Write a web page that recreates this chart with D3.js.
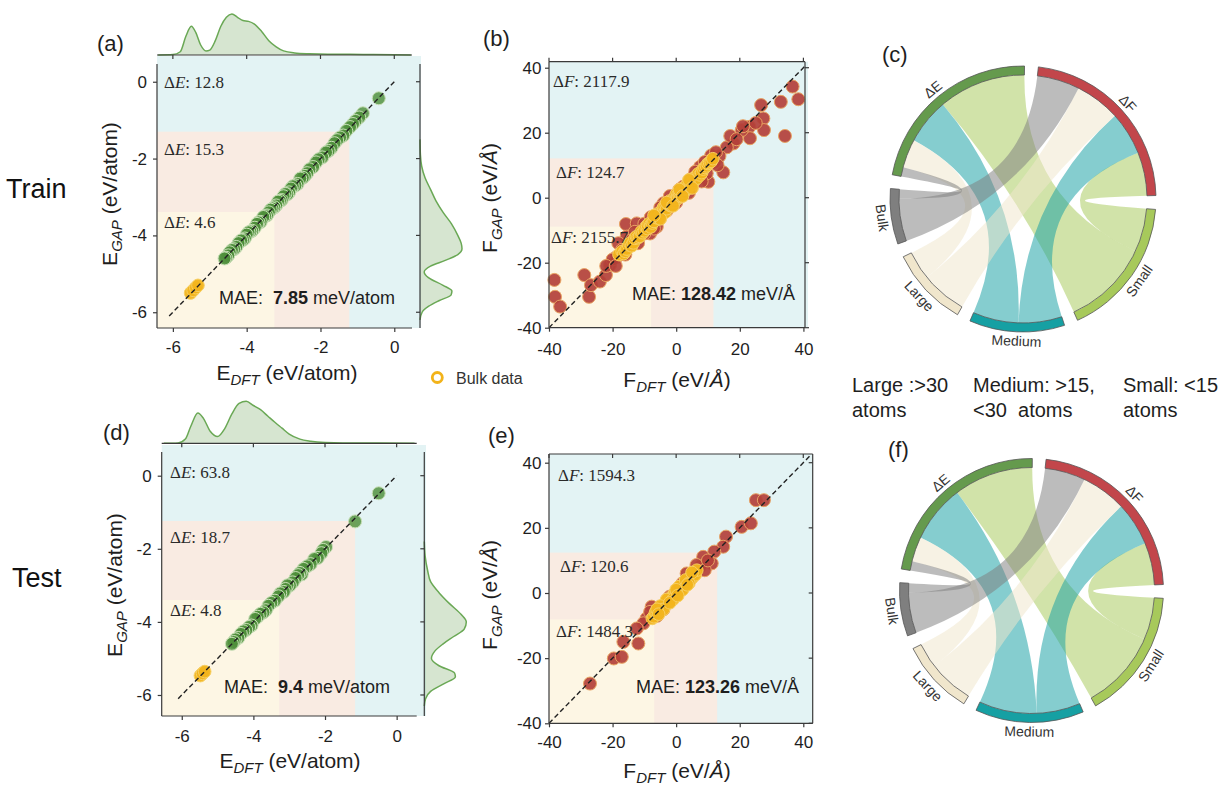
<!DOCTYPE html>
<html><head><meta charset="utf-8">
<script src="https://cdn.jsdelivr.net/npm/d3@7/dist/d3.min.js"></script>
<style>
body{margin:0;background:#fff;}
svg text{font-family:"Liberation Sans",Arial,Helvetica,sans-serif;}
svg text.serif{font-family:"Liberation Serif","Times New Roman",serif;}
</style></head>
<body>
<svg id="fig" width="1226" height="786" xmlns="http://www.w3.org/2000/svg"></svg>
<script>
// ---------------- DATA ----------------
const eTicks = [-6, -4, -2, 0];
const fTicks = [-40, -20, 0, 20, 40];

// (a) train energies [E_DFT, E_GAP]
const trainEPoints = [[-0.42,-0.43],[-0.85,-0.82],[-0.95,-0.93],[-1.05,-1.02],[-1.12,-1.1],[-1.2,-1.18],[-1.3,-1.28],[-1.38,-1.4],[-1.47,-1.45],[-1.55,-1.52],[-1.62,-1.6],[-1.7,-1.72],[-1.78,-1.8],[-1.85,-1.84],[-1.95,-1.97],[-2.05,-2.02],[-2.12,-2.1],[-2.2,-2.22],[-2.3,-2.28],[-2.36,-2.38],[-2.42,-2.45],[-2.48,-2.5],[-2.55,-2.52],[-2.62,-2.66],[-2.68,-2.7],[-2.75,-2.72],[-2.8,-2.78],[-2.85,-2.88],[-2.9,-2.93],[-2.95,-2.92],[-3.0,-2.98],[-3.05,-3.08],[-3.1,-3.1],[-3.15,-3.12],[-3.2,-3.22],[-3.25,-3.27],[-3.3,-3.3],[-3.35,-3.33],[-3.4,-3.4],[-3.45,-3.48],[-3.5,-3.5],[-3.55,-3.52],[-3.62,-3.65],[-3.68,-3.66],[-3.72,-3.7],[-3.78,-3.8],[-3.85,-3.88],[-3.9,-3.9],[-3.95,-3.92],[-4.0,-3.98],[-4.05,-4.08],[-4.1,-4.12],[-4.15,-4.13],[-4.22,-4.2],[-4.28,-4.3],[-4.34,-4.36],[-4.4,-4.38],[-4.46,-4.44],[-4.5,-4.52],[-4.56,-4.58],[-4.6,-4.6]];
const trainEBulk = [[-5.52,-5.5],[-5.45,-5.43],[-5.38,-5.36],[-5.32,-5.3]];
// (d) test energies
const testEPoints = [[-0.5,-0.48],[-1.16,-1.25],[-1.97,-1.95],[-2.05,-2.03],[-2.1,-2.12],[-2.2,-2.25],[-2.3,-2.28],[-2.4,-2.42],[-2.5,-2.48],[-2.6,-2.55],[-2.65,-2.7],[-2.7,-2.66],[-2.75,-2.72],[-2.82,-2.8],[-2.9,-2.92],[-2.98,-3.0],[-3.05,-3.0],[-3.1,-3.1],[-3.15,-3.18],[-3.25,-3.22],[-3.3,-3.3],[-3.4,-3.42],[-3.5,-3.48],[-3.58,-3.56],[-3.65,-3.68],[-3.72,-3.74],[-3.8,-3.78],[-3.88,-3.86],[-3.95,-3.92],[-4.05,-4.1],[-4.12,-4.14],[-4.2,-4.22],[-4.28,-4.26],[-4.35,-4.33],[-4.42,-4.44],[-4.5,-4.48],[-4.55,-4.55],[-4.6,-4.6]];
const testEBulk = [[-5.48,-5.47],[-5.42,-5.41],[-5.36,-5.36]];
// (b) train forces [F_DFT, F_GAP]
const trainFPoints = [[36.6,34.2],[32.9,29.5],[38.4,30.3],[26.7,28.5],[27.4,24.4],[27.6,20.8],[34.2,19.0],[23.0,21.8],[23.2,18.3],[20.6,20.8],[18.0,16.7],[15.9,15.5],[14.8,7.8],[13.6,12.8],[10.1,4.9],[9.6,7.5],[7.5,9.5],[12,11],[11,13],[17,19],[19,18],[21,22],[25,23],[5,6],[3,3.5],[8,5],[-38.3,-25.3],[-38.1,-30.5],[-36.5,-33.5],[-28.9,-23.8],[-27.4,-30.5],[-26.8,-26.9],[-24,-25.8],[-22.1,-23.8],[-20.8,-20.7],[-18.7,-18.2],[-15.8,-8.1],[-12.4,-7.9],[-15.6,-12],[-18.2,-14.0],[-8.2,-11],[-6.1,-8.9],[-4.0,-1.7],[2.2,3.4],[4.3,4.4],[-17,-16],[-16,-17.5],[-14,-13],[-12,-14],[-10,-8],[-10,-11],[-8,-6],[-6,-6.5],[-5,-3],[-3,-4],[-2,0.5],[0,-1.5],[1,2.5],[-20,-19],[-22,-21],[-19,-21],[-13,-10.5],[6,8],[9,11],[12.5,14],[13,10],[-7,-9.5],[4,1.5]];
const trainFBulk = [[-18,-17.5],[-17,-16.5],[-16.5,-17.2],[-16,-16.5],[-15.5,-15.8],[-15,-14.5],[-14.5,-14],[-14,-14.8],[-13.5,-13.9],[-13,-12.5],[-12.5,-12],[-12,-12.3],[-11.5,-11.9],[-11,-10.5],[-10.5,-10.8],[-10,-10.2],[-9.5,-9],[-9,-9.5],[-9,-8.5],[-8.5,-8],[-8,-8.4],[-8,-9],[-7.5,-7.8],[-7,-7.3],[-6.5,-6],[-6,-6.2],[-6,-5],[-5.5,-6],[-5,-5.3],[-4.5,-4],[-4,-4.2],[-4,-3],[-3.5,-3],[-3.5,-4.5],[-3,-3.4],[-2.5,-2],[-2,-2.3],[-2,-1],[-1.5,-1.2],[-1.5,-2.5],[-1,-1.3],[-0.5,0],[-0.5,-1.2],[0,-0.3],[0,1],[0.5,0.8],[0.5,-0.2],[1,0.6],[1,1.5],[1.5,1.9],[1.5,0.5],[2,1.7],[2,2.8],[2.5,2.9],[2.5,1.8],[3,2.6],[3,3.5],[3.5,4],[3.5,2.8],[4,3.7],[4.5,5],[4.5,4],[5,4.6],[5.5,6],[5.5,5],[6,5.7],[6.5,6.8],[6.5,6],[7,7.4],[7.5,7],[8,7.7],[8.5,8.8],[9,9.3],[9.5,9.8],[10,10.5],[10.5,10.8],[11,11.2],[11.5,12],[-3,-1.5],[-1,-2.5],[1,2.5],[2,0.5],[-5,-6.5],[-7,-5.5],[4,5.5],[5,3]];
// (e) test forces
const testFPoints = [[25.1,28.5],[27.6,28.5],[20.6,20.3],[23.5,21.4],[15.7,17.3],[14.8,14.2],[12.0,12.7],[11.2,9.1],[8.5,11.1],[7.5,8.1],[6.4,8.6],[3.3,6.0],[-7.7,-4.2],[-9.3,-7.8],[-10.3,-9.3],[-12.4,-10.9],[-11.9,-15.5],[-16.6,-15],[-19.6,-20.1],[-17.1,-19.6],[-27.1,-27.8],[-8.2,-5.8],[-2,-1.1],[9,7],[5,5.5],[-6,-7],[-4,-5],[2,3],[10,10]];
const testFBulk = [[-7.5,-7.8],[-7,-7.3],[-6.5,-6],[-6,-6.3],[-5.5,-5],[-5,-5.3],[-4.5,-4.2],[-4,-4.4],[-3.5,-3.2],[-3,-3.3],[-2.5,-2.2],[-2,-2.4],[-1.5,-1.2],[-1,-1.3],[-0.5,-0.2],[0,-0.4],[0.5,0.8],[1,0.6],[1.5,1.8],[2,1.6],[2.5,2.8],[3,2.7],[3.5,3.9],[4,3.6],[4.5,4.8],[5,4.6],[5.5,5.9],[6,5.6],[-3,-2],[-1,-2],[1,2],[2,1],[3,4],[4,3],[-5,-4],[-4,-5],[6.5,7],[-6,-5],[-2,-3],[0,1],[5,6.3],[-5.5,-6.5],[0.5,-0.8],[3.5,2.5]];

// region thresholds [large|medium boundary, medium|small boundary]
const trainERegionX = [-3.25, -1.22], trainERegionY = [-3.39, -1.30];
const testERegionX = [-3.28, -1.16], testERegionY = [-3.40, -1.24];
const trainFRegionX = [-7.9, 11.7], trainFRegionY = [-8.9, 12.1];
const testFRegionX = [-6.9, 12.9], testFRegionY = [-8.1, 12.4];

// errors per region: [small (top), medium, large (bottom)]
const trainEDelta = ["12.8", "15.3", "4.6"];
const testEDelta = ["63.8", "18.7", "4.8"];
const trainFDelta = ["2117.9", "124.7", "2155.7"];
const testFDelta = ["1594.3", "120.6", "1484.3"];
const maeTrainE = "7.85", maeTestE = "9.4", maeTrainF = "128.42", maeTestF = "123.26";

// marginal densities [value, relative density]
const topKdeTrain = [[-6.4,0],[-6.0,0.01],[-5.8,0.08],[-5.65,0.45],[-5.5,0.70],[-5.38,0.55],[-5.25,0.25],[-5.1,0.1],[-5.0,0.12],[-4.85,0.35],[-4.7,0.7],[-4.55,0.92],[-4.4,1.0],[-4.25,0.92],[-4.1,0.84],[-3.95,0.82],[-3.8,0.76],[-3.6,0.58],[-3.4,0.35],[-3.2,0.2],[-3.0,0.1],[-2.7,0.05],[-2.3,0.03],[-1.8,0.02],[-1.2,0.02],[-0.6,0.01],[0,0.005],[0.45,0]];
const rightKdeTrain = [[-1.5,0],[-1.9,0.01],[-2.2,0.04],[-2.5,0.12],[-2.8,0.25],[-3.1,0.38],[-3.4,0.55],[-3.7,0.75],[-4.0,0.9],[-4.2,0.98],[-4.35,1.0],[-4.5,0.9],[-4.65,0.6],[-4.8,0.25],[-4.95,0.1],[-5.1,0.2],[-5.3,0.55],[-5.45,0.76],[-5.55,0.74],[-5.7,0.45],[-5.85,0.2],[-6.0,0.05],[-6.2,0]];
const topKdeTest = [[-6.5,0],[-6.1,0.01],[-5.9,0.1],[-5.75,0.4],[-5.55,0.72],[-5.4,0.6],[-5.2,0.28],[-5.0,0.16],[-4.8,0.35],[-4.6,0.7],[-4.4,0.95],[-4.2,1.0],[-4.0,0.9],[-3.8,0.8],[-3.6,0.65],[-3.4,0.5],[-3.2,0.36],[-3.0,0.22],[-2.7,0.1],[-2.4,0.05],[-2.0,0.02],[-1.5,0.01],[-1,0.01],[-0.5,0.005],[0.5,0]];
const rightKdeTest = [[-1.8,0],[-2.2,0.02],[-2.6,0.08],[-2.9,0.15],[-3.2,0.35],[-3.5,0.6],[-3.8,0.88],[-4.0,1.0],[-4.2,0.95],[-4.4,0.7],[-4.6,0.45],[-4.8,0.25],[-5.0,0.17],[-5.2,0.35],[-5.4,0.72],[-5.5,0.74],[-5.7,0.45],[-5.9,0.15],[-6.1,0.03],[-6.3,0]];

// chord diagrams: targets order Small, Medium, Large, Bulk
const chordSources = ["ΔE", "ΔF"];
const chordTargets = ["Small", "Medium", "Large", "Bulk"];
const trainChordE = [41, 21.5, 13.5, 4.3];
const trainChordF = [20.4, 20.3, 21.3, 20.0];
const testChordE = [38.1, 27.6, 11.9, 4.4];
const testChordF = [20.2, 20.9, 21.6, 19.4];

const sizeClasses = [["Large :>30", "atoms"], ["Medium: >15,", "<30  atoms"], ["Small: <15", "atoms"]];

// ---------------- STYLE ----------------
const COL = {blue:"#e3f3f4", peach:"#f9ebe2", yellow:"#fdf6e4", spine:"#3a3a3a", text:"#1e1e1e"};
const chordColor = {"ΔE":"#659a4d","ΔF":"#c2464b","Small":"#a7c95b","Medium":"#16a0a3","Large":"#f0e6cc","Bulk":"#7f7f7f"};
const svg = d3.select("#fig");

function seg(g, x1, y1, x2, y2, w) {
  g.append("line").attr("x1",x1).attr("y1",y1).attr("x2",x2).attr("y2",y2)
   .attr("stroke",COL.spine).attr("stroke-width",w||1.2);
}
function styleAxis(ax) {
  ax.attr("font-size",17);
  ax.selectAll(".tick line").attr("stroke",COL.spine).attr("stroke-width",1.2);
  ax.selectAll(".tick text").attr("fill",COL.text);
  ax.select(".domain").remove();
}
function axisLabel(x, y, rot, main, sub, unit, unitItalic) {
  const t = svg.append("text").attr("transform",`translate(${x},${y}) rotate(${rot})`)
    .attr("text-anchor","middle").attr("font-size",21).attr("fill",COL.text);
  t.append("tspan").text(main);
  t.append("tspan").attr("font-size",15).attr("font-style","italic").attr("dy",5).text(sub);
  t.append("tspan").attr("dy",-5).text(" (eV/");
  t.append("tspan").attr("font-style",unitItalic?"italic":"normal").text(unit);
  t.append("tspan").text(")");
}

function scatterPanel(o) {
  const g = svg.append("g");
  const x = d3.scaleLinear().domain(o.xDom).range([o.L, o.R]);
  const y = d3.scaleLinear().domain(o.yDom).range([o.B, o.T]);
  g.append("rect").attr("x",o.L).attr("y",o.T).attr("width",o.shadeR-o.L).attr("height",o.B-o.T).attr("fill",COL.blue);
  g.append("rect").attr("x",o.L).attr("y",y(o.regY[1])).attr("width",x(o.regX[1])-o.L).attr("height",o.B-y(o.regY[1])).attr("fill",COL.peach);
  g.append("rect").attr("x",o.L).attr("y",y(o.regY[0])).attr("width",x(o.regX[0])-o.L).attr("height",o.B-y(o.regY[0])).attr("fill",COL.yellow);

  g.append("g").selectAll("circle").data(o.points).join("circle")
    .attr("cx",d=>x(d[0])).attr("cy",d=>y(d[1])).attr("r",6.5)
    .attr("fill",o.pFill).attr("fill-opacity",o.pOp).attr("stroke",o.pStroke).attr("stroke-width",1);
  g.append("g").selectAll("circle").data(o.bulk).join("circle")
    .attr("cx",d=>x(d[0])).attr("cy",d=>y(d[1])).attr("r",6.3)
    .attr("fill","#f2b41c").attr("fill-opacity",0.95).attr("stroke","#f7cf62").attr("stroke-width",1);
  g.append("line").attr("x1",x(o.diag[0])).attr("y1",y(o.diag[0])).attr("x2",x(o.diag[1])).attr("y2",y(o.diag[1]))
    .attr("stroke","#222").attr("stroke-width",1.4).attr("stroke-dasharray","5,3");

  o.deltas.forEach((v,i)=>{
    const t = g.append("text").attr("class","serif").attr("x",o.dX[i]).attr("y",o.dY[i])
      .attr("font-size",17).attr("fill","#2a2a2a");
    t.append("tspan").text("Δ");
    t.append("tspan").attr("font-style","italic").text(o.sym);
    t.append("tspan").text(": " + v);
  });
  const m = g.append("text").attr("x",o.maeX).attr("y",o.maeY).attr("font-size",18).attr("fill",COL.text)
    .style("white-space","pre").attr("xml:space","preserve");
  m.append("tspan").text(o.maeGap);
  m.append("tspan").attr("font-weight","bold").text(o.mae);
  m.append("tspan").text(" " + o.maeUnit);

  seg(g, o.L, o.spineT, o.L, o.B);
  seg(g, o.L, o.B, o.R, o.B);
  const ay = svg.append("g").attr("transform",`translate(${o.L},0)`)
    .call(d3.axisLeft(y).tickValues(o.ticks).tickSize(4).tickSizeOuter(0).tickPadding(o.yPad).tickFormat(d=>String(d)));
  styleAxis(ay);
  const ax = svg.append("g").attr("transform",`translate(0,${o.B})`)
    .call(d3.axisBottom(x).tickValues(o.ticks).tickSize(4).tickSizeOuter(0).tickPadding(o.xPad).tickFormat(d=>String(d)));
  styleAxis(ax);
  return {x, y, g};
}

function energyMarginals(o, s, topKde, rightKde) {
  const g = svg.append("g");
  const topArea = d3.area().curve(d3.curveMonotoneX)
    .x(d=>s.x(d[0])).y0(o.topBase).y1(d=>o.topBase - d[1]*o.kdeH);
  const topLine = d3.line().curve(d3.curveMonotoneX).x(d=>s.x(d[0])).y(d=>o.topBase - d[1]*o.kdeH);
  g.append("path").attr("d",topArea(topKde)).attr("fill","#5f9c4b").attr("fill-opacity",0.26);
  g.append("path").attr("d",topLine(topKde)).attr("fill","none").attr("stroke","#6aa855").attr("stroke-width",1.5);
  const rightArea = d3.area().curve(d3.curveMonotoneY)
    .y(d=>s.y(d[0])).x0(o.rightBase).x1(d=>o.rightBase + d[1]*o.kdeW);
  const rightLine = d3.line().curve(d3.curveMonotoneY).y(d=>s.y(d[0])).x(d=>o.rightBase + d[1]*o.kdeW);
  g.append("path").attr("d",rightArea(rightKde)).attr("fill","#5f9c4b").attr("fill-opacity",0.26);
  g.append("path").attr("d",rightLine(rightKde)).attr("fill","none").attr("stroke","#6aa855").attr("stroke-width",1.5);
  seg(g, o.L, o.topBase, o.R, o.topBase);
  seg(g, o.rightBase, o.spineT, o.rightBase, o.B);
  o.ticks.forEach(t=>{
    seg(g, s.x(t), o.topBase, s.x(t), o.topBase+4);
    seg(g, o.rightBase-4, s.y(t), o.rightBase, s.y(t));
  });
}

function forceFrame(o, s, outward) {
  const g = svg.append("g");
  seg(g, o.L, o.T, o.R, o.T);
  seg(g, o.R, o.T, o.R, o.B);
  const d = outward ? 1 : -1;
  o.ticks.forEach(t=>{
    seg(g, s.x(t), o.T, s.x(t), o.T - 4*d);
    seg(g, o.R, s.y(t), o.R + 4*d, s.y(t));
  });
}

// ---------------- PANEL (a) ----------------
const A = {L:157, R:412, T:56, B:328, shadeR:421, spineT:64, xDom:[-6.43,0.48], yDom:[-6.41,0.67],
  regX:trainERegionX, regY:trainERegionY, points:trainEPoints, bulk:trainEBulk, diag:[-6.1,0],
  pFill:"#4e8f3a", pOp:0.82, pStroke:"#c9e0b8", ticks:eTicks, yPad:6, xPad:9,
  deltas:trainEDelta, sym:"E", dX:[164,164,164], dY:[88,155,228],
  maeX:219, maeY:304, maeGap:"MAE:  ", mae:maeTrainE, maeUnit:"meV/atom",
  topBase:55, rightBase:420, kdeH:41, kdeW:42};
const sA = scatterPanel(A);
energyMarginals(A, sA, topKdeTrain, rightKdeTrain);

// ---------------- PANEL (d) ----------------
const D = {L:161.7, R:416.7, T:445, B:716, shadeR:426, spineT:452, xDom:[-6.56,0.56], yDom:[-6.575,0.84],
  regX:testERegionX, regY:testERegionY, points:testEPoints, bulk:testEBulk, diag:[-6.1,0],
  pFill:"#4e8f3a", pOp:0.82, pStroke:"#c9e0b8", ticks:eTicks, yPad:6, xPad:9.5,
  deltas:testEDelta, sym:"E", dX:[170,170,170], dY:[478,543,616],
  maeX:224, maeY:693, maeGap:"MAE:  ", mae:maeTestE, maeUnit:"meV/atom",
  topBase:443.3, rightBase:424.3, kdeH:42, kdeW:42};
const sD = scatterPanel(D);
energyMarginals(D, sD, topKdeTest, rightKdeTest);

// ---------------- PANEL (b) ----------------
const B = {L:549, R:805, T:61.7, B:327.7, shadeR:808, spineT:61.7, xDom:[-40,40.5], yDom:[-40,41.85],
  regX:trainFRegionX, regY:trainFRegionY, points:trainFPoints, bulk:trainFBulk, diag:[-40,40.5],
  pFill:"#b3403a", pOp:0.92, pStroke:"#e8a463", ticks:fTicks, yPad:3.5, xPad:11,
  deltas:trainFDelta, sym:"F", dX:[553,556,551], dY:[87,178,243],
  maeX:632, maeY:300, maeGap:"MAE: ", mae:maeTrainF, maeUnit:"meV/Å"};
const sB = scatterPanel(B);
forceFrame(B, sB, true);

// ---------------- PANEL (e) ----------------
const E = {L:549, R:812.7, T:454, B:723.3, shadeR:813, spineT:454, xDom:[-40,42.96], yDom:[-40,42.67],
  regX:testFRegionX, regY:testFRegionY, points:testFPoints, bulk:testFBulk, diag:[-40,42.5],
  pFill:"#b3403a", pOp:0.92, pStroke:"#e8a463", ticks:fTicks, yPad:3.5, xPad:9,
  deltas:testFDelta, sym:"F", dX:[558,560,556], dY:[481,572,637],
  maeX:636, maeY:693, maeGap:"MAE: ", mae:maeTestF, maeUnit:"meV/Å"};
const sE = scatterPanel(E);
forceFrame(E, sE, false);

// axis labels
axisLabel(287, 380, 0, "E", "DFT", "atom", false);
axisLabel(117, 194, -90, "E", "GAP", "atom", false);
axisLabel(290, 768, 0, "E", "DFT", "atom", false);
axisLabel(122, 585, -90, "E", "GAP", "atom", false);
axisLabel(677, 387, 0, "F", "DFT", "Å", true);
axisLabel(497, 198, -90, "F", "GAP", "Å", true);
axisLabel(677, 778, 0, "F", "DFT", "Å", true);
axisLabel(497, 595, -90, "F", "GAP", "Å", true);

// ---------------- CHORDS ----------------
function chordPanel(o, eVals, fVals) {
  const g = svg.append("g").attr("transform",`translate(${o.cx},${o.cy})`);
  const gap = 6*Math.PI/180;
  const total = 2*(d3.sum(eVals) + d3.sum(fVals));
  const k = (2*Math.PI - 6*gap)/total;
  let a = o.start*Math.PI/180;
  const groups = [], src = [[],[]], tgt = [[],[]];
  [eVals, fVals].forEach((vals, si)=>{
    const s0 = a;
    for (let j = vals.length-1; j >= 0; j--) { src[si][j] = {startAngle:a, endAngle:a+vals[j]*k}; a += vals[j]*k; }
    groups.push({name:chordSources[si], startAngle:s0, endAngle:a});
    a += gap;
  });
  chordTargets.forEach((name, j)=>{
    const s0 = a;
    tgt[1][j] = {startAngle:a, endAngle:a+fVals[j]*k}; a += fVals[j]*k;
    tgt[0][j] = {startAngle:a, endAngle:a+eVals[j]*k}; a += eVals[j]*k;
    groups.push({name, startAngle:s0, endAngle:a});
    a += gap;
  });
  const ribbon = d3.ribbon().radius(o.rIn);
  const ribbons = [];
  chordTargets.forEach((name, j)=>{
    ribbons.push({source:src[0][j], target:tgt[0][j], name});
    ribbons.push({source:src[1][j], target:tgt[1][j], name});
  });
  g.append("g").selectAll("path").data(ribbons).join("path")
    .attr("d", ribbon).attr("fill", d=>chordColor[d.name]).attr("fill-opacity",0.52).attr("stroke","none");
  const arc = d3.arc().innerRadius(o.rIn).outerRadius(o.rOut);
  g.append("g").selectAll("path").data(groups).join("path")
    .attr("d", arc).attr("fill", d=>chordColor[d.name]).attr("stroke","#555").attr("stroke-width",0.8);
  groups.forEach(d=>{
    const m = (d.startAngle + d.endAngle)/2;
    let deg = m*180/Math.PI; deg = ((deg % 360) + 360) % 360;
    const bottom = deg > 90 && deg < 270;
    const R = bottom ? o.rOut + 14 : o.rOut + 4;
    const rot = bottom ? deg - 180 : (deg > 180 ? deg - 360 : deg);
    g.append("text").attr("transform",`translate(${R*Math.sin(m)},${-R*Math.cos(m)}) rotate(${rot})`)
      .attr("text-anchor","middle").attr("font-size",14).attr("fill","#333").text(d.name);
  });
}
chordPanel({cx:1023, cy:199, rOut:133, rIn:124, start:-79.5}, trainChordE, trainChordF);
chordPanel({cx:1031.5, cy:590.5, rOut:132, rIn:123, start:-80.6}, testChordE, testChordF);

// ---------------- TEXTS ----------------
const panelLabels = [["(a)",97,51],["(b)",483,46],["(c)",882,62],["(d)",103,440],["(e)",488,443],["(f)",888,457]];
panelLabels.forEach(p=>svg.append("text").attr("x",p[1]).attr("y",p[2]).attr("font-size",22).attr("fill",COL.text).text(p[0]));
svg.append("text").attr("x",6).attr("y",198).attr("font-size",27).attr("fill","#111").text("Train");
svg.append("text").attr("x",12).attr("y",587).attr("font-size",27).attr("fill","#111").text("Test");
const classX = [852, 973, 1123];
sizeClasses.forEach((c,i)=>{
  c.forEach((line,li)=>svg.append("text").attr("x",classX[i]).attr("y",392+li*25).attr("font-size",20)
    .attr("fill",COL.text).style("white-space","pre").attr("xml:space","preserve").text(line));
});
svg.append("circle").attr("cx",437.3).attr("cy",377.5).attr("r",5).attr("fill","none").attr("stroke","#f2b31a").attr("stroke-width",2.8);
svg.append("text").attr("x",456).attr("y",384).attr("font-size",16).attr("fill","#333").text("Bulk data");
</script>
</body></html>
